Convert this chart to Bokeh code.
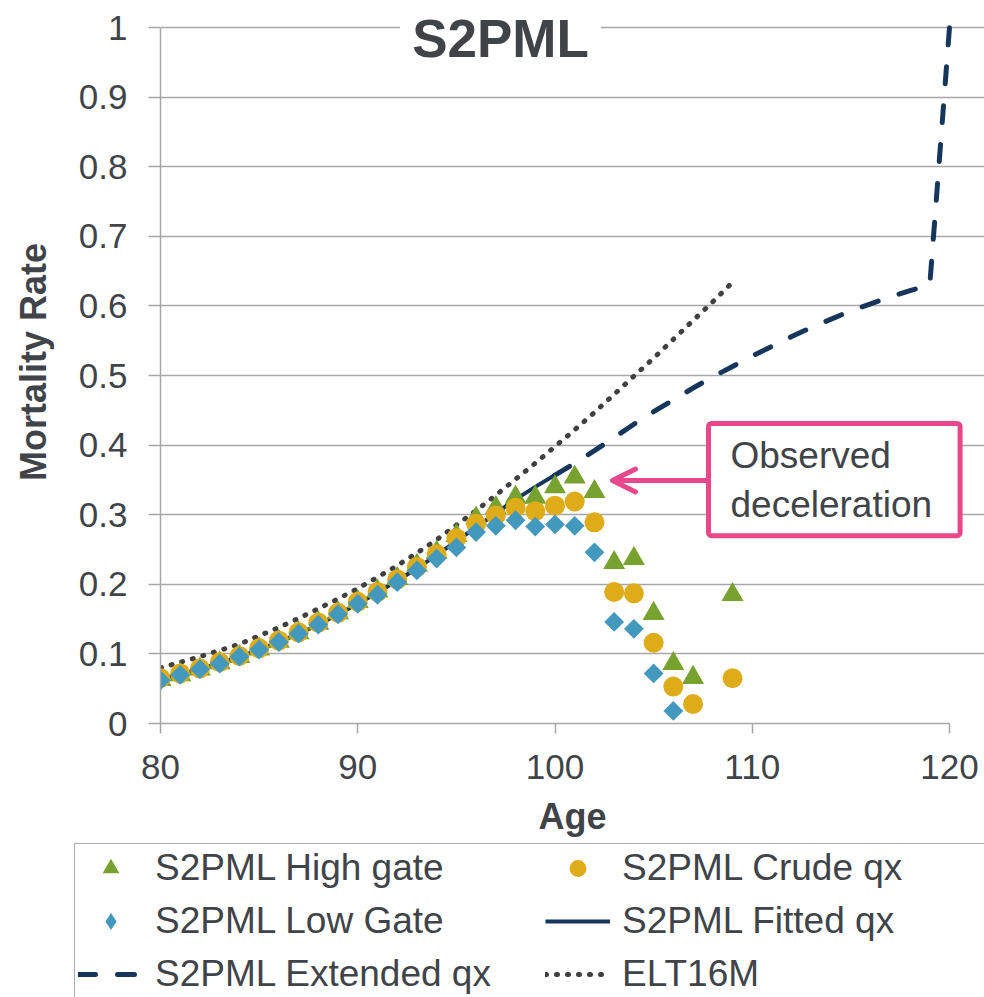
import numpy as np
from bokeh.plotting import figure
from bokeh.layouts import column
from bokeh.models import FixedTicker, Label, Arrow, OpenHead, Legend, LegendItem
from bokeh.embed import file_html
from bokeh.resources import INLINE

# ---------------- data ----------------
high_age = list(range(80, 108)) + [109]
high_gate = [0.063, 0.070, 0.078, 0.087, 0.096, 0.107, 0.118, 0.130, 0.144, 0.159,
             0.175, 0.190, 0.208, 0.227, 0.246, 0.270, 0.295, 0.310, 0.325, 0.325,
             0.340, 0.354, 0.333, 0.231, 0.237, 0.158, 0.086, 0.066,
             0.185]

crude_age = list(range(80, 108)) + [109]
crude_qx = [0.065, 0.072, 0.079, 0.088, 0.097, 0.108, 0.119, 0.131, 0.145, 0.159,
            0.175, 0.189, 0.207, 0.225, 0.243, 0.266, 0.287, 0.299, 0.310, 0.305,
            0.313, 0.319, 0.289, 0.189, 0.187, 0.116, 0.053, 0.028,
            0.065]

low_age = list(range(80, 107))
low_gate = [0.062, 0.070, 0.078, 0.086, 0.096, 0.106, 0.117, 0.129, 0.142, 0.157,
            0.172, 0.185, 0.203, 0.220, 0.237, 0.253, 0.275, 0.284, 0.292, 0.283,
            0.286, 0.284, 0.246, 0.146, 0.136, 0.072, 0.018]

fit_age = list(range(80, 101))
fitted_qx = [0.064, 0.071, 0.078, 0.087, 0.096, 0.106, 0.117, 0.129, 0.142, 0.157,
             0.172, 0.188, 0.205, 0.223, 0.242, 0.262, 0.282, 0.302, 0.322, 0.340,
             0.357]

ext_age = list(range(100, 121))
extended_qx = [0.357, 0.374, 0.392, 0.411, 0.430, 0.448, 0.465, 0.482, 0.498, 0.513,
               0.528, 0.542, 0.556, 0.569, 0.581, 0.593, 0.603, 0.613, 0.622, 0.630,
               1.0]

elt_age = list(range(80, 110))
elt16m = [0.080, 0.088, 0.096, 0.105, 0.114, 0.126, 0.138, 0.151, 0.165, 0.179,
          0.194, 0.210, 0.227, 0.245, 0.264, 0.285, 0.306, 0.328, 0.351, 0.374,
          0.398, 0.422, 0.447, 0.473, 0.499, 0.525, 0.552, 0.579, 0.606, 0.634]

x_ticks = [80, 90, 100, 110, 120]
y_ticks = [0, 0.1, 0.2, 0.3, 0.4, 0.5, 0.6, 0.7, 0.8, 0.9, 1]
y_tick_labels = ["0", "0.1", "0.2", "0.3", "0.4", "0.5", "0.6", "0.7", "0.8", "0.9", "1"]

series_labels = ["S2PML High gate", "S2PML Crude qx", "S2PML Low Gate",
                 "S2PML Fitted qx", "S2PML Extended qx", "ELT16M"]

title_text = "S2PML"
note_text = "Observed\ndeceleration"

# ---------------- style / layout ----------------
FONT = "Liberation Sans"
TEXT = "#404449"
GRID = "#A6A6A6"
GREEN = "#78A22F"
GOLD = "#DEAB19"
BLUE = "#4398BE"
NAVY = "#16365C"
DOT = "#404040"
PINK = "#E8488B"

W = 984
H_MAIN = 843
H_LEG = 997 - H_MAIN
LEFT, TOP0, BOTTOM0 = 160, 27, 723          # pixel positions of x=80, y=1, y=0
PX_PER_YEAR = (949 - 160) / 40.0
PX_PER_UNIT = BOTTOM0 - TOP0

x_end = 80 + (W - LEFT) / PX_PER_YEAR       # frame reaches the right edge
y_end = 1 + TOP0 / PX_PER_UNIT              # frame reaches the top edge


def dx(px):
    return 80 + (px - LEFT) / PX_PER_YEAR


def dy(py):
    return (BOTTOM0 - py) / PX_PER_UNIT


p = figure(width=W, height=H_MAIN, x_range=(80, x_end), y_range=(0, y_end),
           output_backend="svg", toolbar_location=None,
           min_border_left=LEFT, min_border_right=0, min_border_top=0,
           min_border_bottom=H_MAIN - BOTTOM0, outline_line_color=None,
           background_fill_color="white", border_fill_color="white")

p.xaxis.ticker = FixedTicker(ticks=x_ticks)
p.yaxis.ticker = FixedTicker(ticks=y_ticks)
p.yaxis.major_label_overrides = dict(zip(y_ticks, y_tick_labels))
p.xaxis.bounds = (80, 120)
p.yaxis.bounds = (0, 1)
p.xgrid.visible = False
p.ygrid.ticker = FixedTicker(ticks=y_ticks)
p.ygrid.bounds = (80, 120)
p.ygrid.grid_line_color = GRID
p.ygrid.grid_line_width = 1.5

for ax in (p.xaxis[0], p.yaxis[0]):
    ax.axis_line_color = GRID
    ax.axis_line_width = 1.5
    ax.major_tick_line_color = GRID
    ax.major_tick_line_width = 1.5
    ax.minor_tick_line_color = None
    ax.major_tick_in = 0
    ax.major_label_text_font = FONT
    ax.major_label_text_font_size = "35px"
    ax.major_label_text_color = TEXT
    ax.axis_label_text_font = FONT
    ax.axis_label_text_font_size = "36px"
    ax.axis_label_text_font_style = "bold"
    ax.axis_label_text_color = TEXT

p.xaxis.axis_label = "Age"
p.yaxis.axis_label = "Mortality Rate"
p.xaxis.major_tick_out = 10
p.yaxis.major_tick_out = 12
p.xaxis.major_label_standoff = 21
p.xaxis.axis_label_standoff = 14
p.yaxis.major_label_standoff = 21
p.yaxis.axis_label_standoff = 22

line_styles = [
    dict(line_color=NAVY, line_width=4),
    dict(line_color=NAVY, line_width=5, line_dash="17 22", line_cap="round"),
    dict(line_color=DOT, line_width=5, line_dash="1 10", line_cap="round"),
]


def draw_series(fig, for_legend=False):
    r_fit = fig.line(fit_age, fitted_qx, **line_styles[0])
    r_ext = fig.line(ext_age, extended_qx, **line_styles[1])
    r_elt = fig.line(elt_age, elt16m, **line_styles[2])
    r_high = fig.scatter(high_age, high_gate, marker="triangle", size=22,
                         fill_color=GREEN, line_color=None)
    r_crude = fig.scatter(crude_age, crude_qx, marker="circle", size=20,
                          fill_color=GOLD, line_color=None)
    if for_legend:
        r_low = fig.scatter(low_age, low_gate, marker="diamond", size=20,
                            fill_color=BLUE, line_color=None)
    else:
        r_low = fig.scatter(low_age, low_gate, marker="square", angle=np.pi / 4,
                            size=14, fill_color=BLUE, line_color=None)
    return [r_high, r_crude, r_low, r_fit, r_ext, r_elt]


draw_series(p)

# arrow + annotation box
arrow = Arrow(x_start=dx(708), y_start=dy(480), x_end=dx(612), y_end=dy(480),
              line_color=PINK, line_width=5,
              end=OpenHead(size=23, line_color=PINK, line_width=5,
                           line_cap="round", line_join="round"))
p.add_layout(arrow)

note = Label(x=dx(708), y=dy(423), text=note_text, text_font=FONT,
             text_font_size="37px", text_color=TEXT, text_align="left",
             text_baseline="top", border_line_color=PINK, border_line_width=5,
             background_fill_color="white", background_fill_alpha=1.0)
try:
    note.padding = dict(left=22, right=28, top=11, bottom=11)
except Exception:
    note.padding = 16
try:
    note.border_radius = 3
except Exception:
    pass
p.add_layout(note)

title = Label(x=dx(500), y=1, y_offset=19, text=title_text, text_font=FONT,
              text_font_size="53px", text_font_style="bold", text_color=TEXT,
              text_align="center", text_baseline="top",
              background_fill_color="white", background_fill_alpha=1.0)
try:
    title.padding = dict(left=12, right=12, top=0, bottom=0)
except Exception:
    title.padding = 12
p.add_layout(title)

# ---------------- legend strip below the chart ----------------
# Same series drawn again (off-view) so the legend can show their glyphs.
pl = figure(width=W, height=H_LEG, x_range=(0, 1), y_range=(0, 1),
            x_axis_type=None, y_axis_type=None,
            output_backend="svg", toolbar_location=None,
            min_border_left=0, min_border_right=0, min_border_top=0, min_border_bottom=0,
            outline_line_color=None, background_fill_color="white",
            border_fill_color="white")
pl.grid.visible = False
leg_renderers = draw_series(pl, for_legend=True)

for fig in (p, pl):
    try:
        fig.frame_align = False
    except Exception:
        pass

PAD, GH, SP = 3, 42, 11
LEG_H = 2 * PAD + 3 * GH + 2 * SP
legend = Legend(items=[LegendItem(label=l, renderers=[r]) for l, r in zip(series_labels, leg_renderers)],
                location=(74, H_LEG - 2 - LEG_H), orientation="horizontal", ncols=2,
                glyph_width=65, glyph_height=GH, label_standoff=12, label_width=379,
                spacing=SP, padding=PAD, margin=0,
                label_text_font=FONT, label_text_font_size="37px", label_text_color=TEXT,
                border_line_color="#595959", border_line_width=1.5,
                background_fill_color="white", background_fill_alpha=1.0)
pl.add_layout(legend, "center")

open("out.html", "w").write(file_html(column(p, pl, spacing=0), INLINE))
